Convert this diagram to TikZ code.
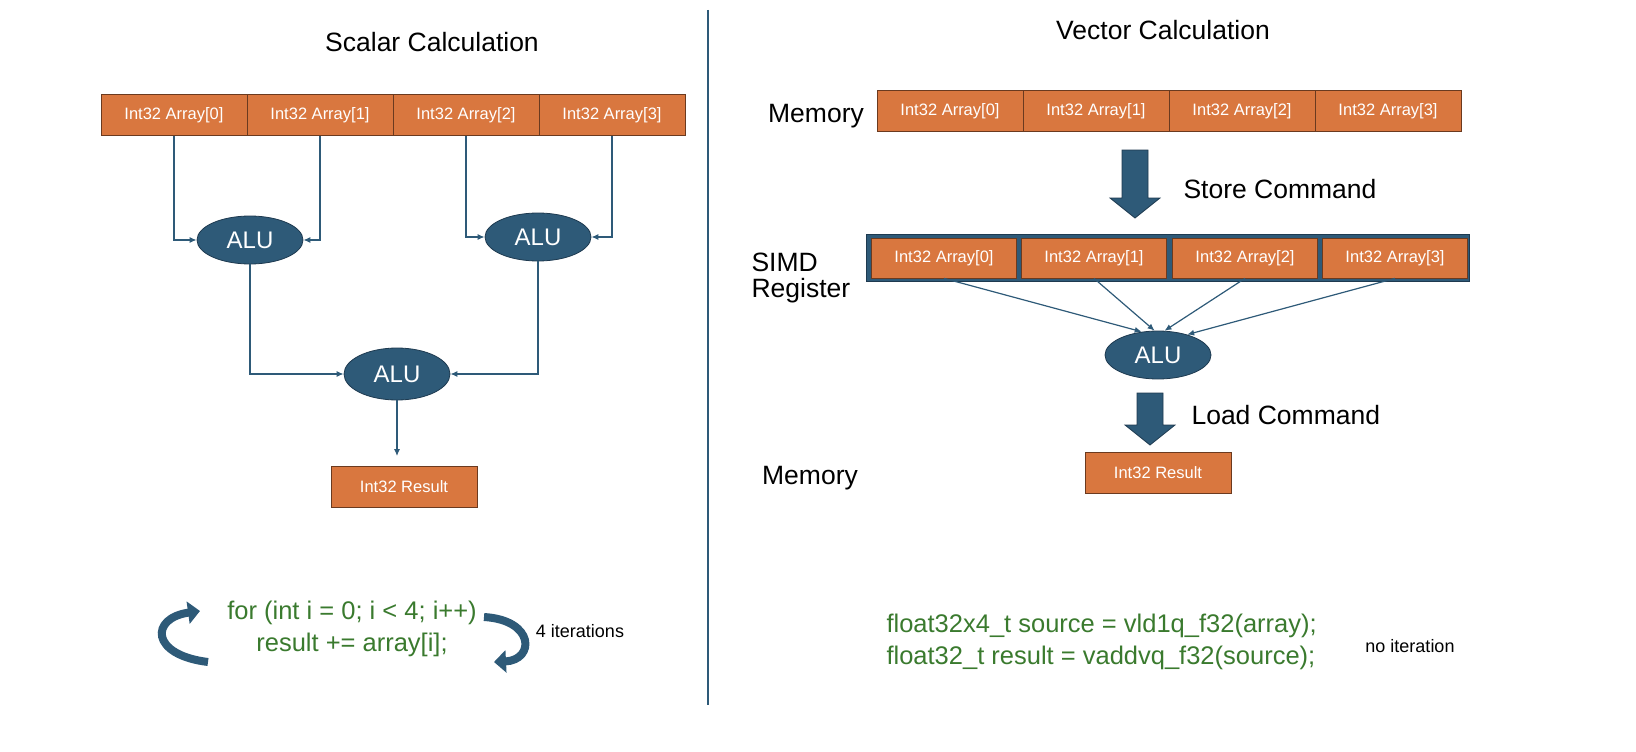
\documentclass[tikz,border=0pt]{standalone}
\usepackage{fontspec}
\setmainfont{Liberation Sans}
\usetikzlibrary{shapes.geometric, arrows.meta}
\definecolor{boxfill}{HTML}{D9773F}
\definecolor{boxline}{HTML}{6B3A1F}
\definecolor{alufill}{HTML}{2E5A78}
\definecolor{aluline}{HTML}{1E3A50}
\definecolor{codegreen}{HTML}{3A7A2E}
\tikzset{
	cell/.style={draw=boxline, thick, fill=boxfill, text=white, minimum width=146pt, minimum height=41pt, inner sep=0pt, font=\fontsize{16.5}{16.5}\selectfont},
	alu/.style={ellipse, draw=aluline, thick, fill=alufill, text=white, minimum width=106pt, minimum height=48pt, inner sep=0pt, font=\fontsize{24}{24}\selectfont},
	link/.style={draw=alufill, line width=1.2pt, -{Latex[length=7pt,width=6pt]}},
	fat/.pic={\draw [aluline, thick, fill=alufill] (-13,0) -- (13,0) -- (13,#1) -- (25,#1) -- (0,#1+20) -- (-25,#1) -- (-13,#1) -- cycle;},
	loop/.style={draw=alufill, line width=8pt, -{Triangle[length=12pt,width=22pt]}},
	caption/.style={font=\fontsize{26.5}{26.5}\selectfont},
	small/.style={font=\fontsize{18}{18}\selectfont},
	code/.style={text=codegreen, font=\fontsize{25.5}{32}\selectfont}
}
\begin{document}
\begin{tikzpicture}[x=1pt, y=-1pt]
	\draw [alufill, line width=1.5pt] (708,10) -- (708,705);

	% scalar side
	\node [caption] (ttlS) at (432,42) {Scalar Calculation};
	\foreach \i/\x in {0/174, 1/320, 2/466, 3/612}
		\node [cell] (s\i) at (\x,115) {Int32 Array[\i]};
	\node [alu] (aluA) at (250,240) {ALU};
	\node [alu] (aluB) at (538,237) {ALU};
	\node [alu, minimum height=52pt] (aluC) at (397,374) {ALU};
	\node [cell] (resS) at (404,487) {Int32 Result};
	\draw [link] (s0.south) |- (aluA.west);
	\draw [link] (s1.south) |- (aluA.east);
	\draw [link] (s2.south) |- (aluB.west);
	\draw [link] (s3.south) |- (aluB.east);
	\draw [link] (aluA.south) |- (aluC.west);
	\draw [link] (aluB.south) |- (aluC.east);
	\draw [link, shorten >=10pt] (aluC.south) -- (resS.north -| aluC.south);
	\node [code, align=center] (codeS) at (352,629) {for (int i = 0; i < 4; i++)\\result += array[i];};
	\coordinate (lA) at (208,662);
	\coordinate (lB) at (200,611);
	\coordinate (rA) at (484,617);
	\coordinate (rB) at (494,662);
	\draw [loop] (lA) .. controls (150,655) and (150,618) .. (lB);
	\draw [loop] (rA) .. controls (535,620) and (535,660) .. (rB);
	\node [small] (iter) at (580,631) {4 iterations};

	% vector side
	\node [caption] (ttlV) at (1163,30) {Vector Calculation};
	\node [caption] (memA) at (816,116) {Memory};
	\foreach \i/\x in {0/950, 1/1096, 2/1242, 3/1388}
		\node [cell] (m\i) at (\x,111) {Int32 Array[\i]};
	\pic at (1135,150) {fat=48};
	\node [caption, anchor=west] (storeT) at (1180,189) {Store Command};
	\node [draw=aluline, thick, fill=alufill, minimum width=603pt, minimum height=47pt] (simd) at (1168,258) {};
	\foreach \i/\x in {0/944, 1/1094, 2/1245, 3/1395}
		\node [cell, minimum width=145pt, minimum height=40pt] (v\i) at (\x,258) {Int32 Array[\i]};
	\node [caption, anchor=west, align=left] (simdT) at (748,278) {SIMD\\Register};
	\node [alu] (aluV) at (1158,355) {ALU};
	\draw [link] (v0.south) -- (aluV.125);
	\draw [link] (v1.south) -- (aluV.98);
	\draw [link] (v2.south) -- (aluV.75);
	\draw [link] (v3.south) -- (aluV.35);
	\pic at (1150,393) {fat=32};
	\node [caption, anchor=west] (loadT) at (1188,415) {Load Command};
	\node [caption] (memB) at (810,478) {Memory};
	\node [cell] (resV) at (1158,473) {Int32 Result};
	\node [code, anchor=west, align=left] (codeV) at (883,642) {float32x4\_t source = vld1q\_f32(array);\\float32\_t result = vaddvq\_f32(source);};
	\node [small] (noit) at (1410,646) {no iteration};

	\pgfresetboundingbox
	\useasboundingbox (0,0) rectangle (1636,752);
\end{tikzpicture}
\end{document}
